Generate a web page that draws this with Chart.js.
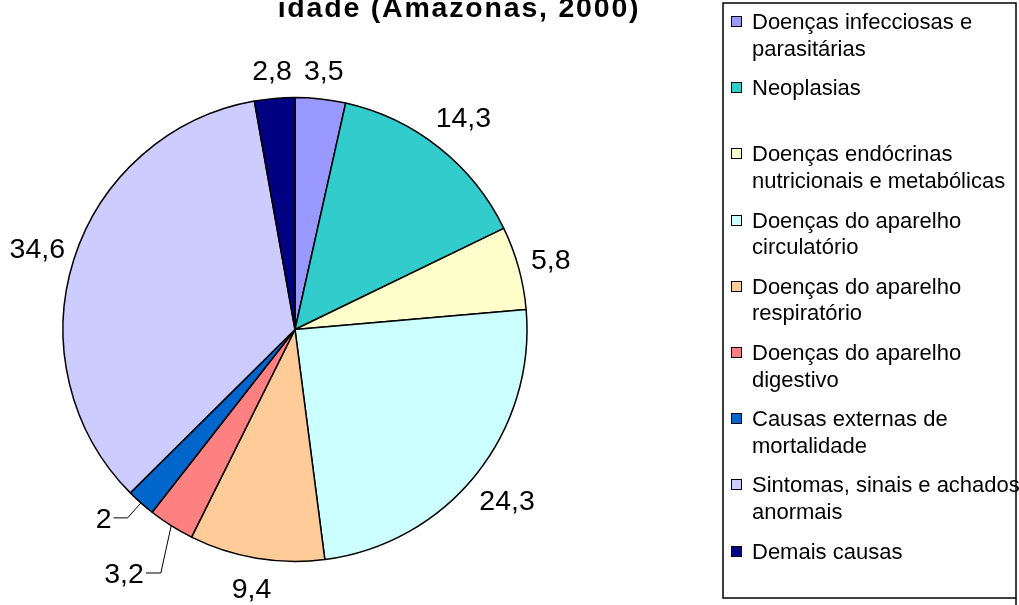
<!DOCTYPE html>
<html>
<head>
<meta charset="utf-8">
<script src="https://cdn.jsdelivr.net/npm/chart.js@4"></script>
<style>
  html, body { margin: 0; padding: 0; background: #ffffff; }
  #wrap { width: 1019px; height: 605px; position: relative; }
</style>
</head>
<body>
<div id="wrap"><canvas id="c" width="1019" height="605"></canvas></div>
<script>
// ---- data ----
const titleText = 'idade (Amazonas, 2000)';
const categories = [
  ['Doenças infecciosas e', 'parasitárias'],
  ['Neoplasias'],
  ['Doenças endócrinas', 'nutricionais e metabólicas'],
  ['Doenças do aparelho', 'circulatório'],
  ['Doenças do aparelho', 'respiratório'],
  ['Doenças do aparelho', 'digestivo'],
  ['Causas externas de', 'mortalidade'],
  ['Sintomas, sinais e achados', 'anormais'],
  ['Demais causas']
];
const values = [3.5, 14.3, 5.8, 24.3, 9.4, 3.2, 2, 34.6, 2.8];
const colors = ['#9999FF', '#33CCCC', '#FFFFCC', '#CCFFFF', '#FFCC99', '#FF8080', '#0066CC', '#CCCCFF', '#000080'];

const FONT = "'Liberation Sans', Arial, sans-serif";
const fmt = v => String(v).replace('.', ',');

const decorPlugin = {
  id: 'decor',
  afterDatasetsDraw(chart, args, opts) {
    const ctx = chart.ctx;
    const meta = chart.getDatasetMeta(0);
    ctx.save();
    ctx.font = opts.labelFontSize + 'px ' + FONT;
    ctx.fillStyle = '#000';
    ctx.strokeStyle = '#000';
    const capH = opts.labelFontSize * 0.716;
    meta.data.forEach((arc, i) => {
      const p = arc.getProps(['x', 'y', 'startAngle', 'endAngle', 'outerRadius'], true);
      const a = (p.startAngle + p.endAngle) / 2;
      const txt = fmt(values[i]);
      const w = ctx.measureText(txt).width;
      const leader = opts.leaders[i];
      if (leader) {
        const x0 = p.x + Math.cos(a) * p.outerRadius;
        const y0 = p.y + Math.sin(a) * p.outerRadius;
        const a2 = a + leader.turn * Math.PI / 180;
        const r2 = p.outerRadius + leader.extra;
        const x1 = p.x + Math.cos(a2) * r2;
        const y1 = p.y + Math.sin(a2) * r2;
        const x2 = x1 - leader.tail;
        ctx.beginPath();
        ctx.moveTo(x0, y0); ctx.lineTo(x1, y1); ctx.lineTo(x2, y1);
        ctx.lineWidth = 1;
        ctx.stroke();
        ctx.textAlign = 'right';
        ctx.textBaseline = 'alphabetic';
        ctx.fillText(txt, x2 - 2, y1 + capH / 2);
      } else {
        const hw = w / 2, hh = capH / 2;
        const d = p.outerRadius + opts.pad + hh * Math.abs(Math.sin(a)) +
          opts.k * hw * Math.abs(Math.cos(a)) + opts.m * Math.abs(Math.sin(2 * a));
        ctx.textAlign = 'center';
        ctx.textBaseline = 'alphabetic';
        ctx.fillText(txt, p.x + Math.cos(a) * d, p.y + Math.sin(a) * d + capH / 2);
      }
    });
    ctx.restore();
  },
  afterDraw(chart, args, opts) {
    const ctx = chart.ctx;
    ctx.save();
    // title (only the visible last line)
    ctx.font = 'bold ' + opts.titleFontSize + 'px ' + FONT;
    if ('letterSpacing' in ctx) ctx.letterSpacing = opts.titleSpacing + 'px';
    ctx.fillStyle = '#000';
    ctx.textAlign = 'center';
    ctx.textBaseline = 'alphabetic';
    ctx.fillText(titleText, opts.titleX, opts.titleY);
    if ('letterSpacing' in ctx) ctx.letterSpacing = '0px';

    // legend box
    const b = opts.box;
    ctx.lineWidth = 1.5;
    ctx.strokeStyle = '#000';
    ctx.strokeRect(b.x, b.y, b.w, b.h);
    ctx.beginPath();
    ctx.moveTo(b.x + b.w, b.y + b.h);
    ctx.lineTo(b.x + b.w, chart.height);
    ctx.stroke();

    ctx.font = opts.legendFontSize + 'px ' + FONT;
    ctx.textAlign = 'left';
    const meta = chart.getDatasetMeta(0);
    categories.forEach((lines, i) => {
      const base = opts.legendTop + i * opts.itemStep;
      const sq = opts.square;
      const sy = Math.round(base - opts.legendFontSize * 0.36 - sq / 2);
      ctx.fillStyle = meta.data[i].options.backgroundColor;
      ctx.fillRect(opts.squareX, sy, sq, sq);
      ctx.lineWidth = 1;
      ctx.strokeRect(opts.squareX + 0.5, sy + 0.5, sq, sq);
      ctx.fillStyle = '#000';
      lines.forEach((ln, j) => {
        ctx.fillText(ln, opts.textX, base + j * opts.lineStep);
      });
    });
    ctx.restore();
  }
};

new Chart(document.getElementById('c'), {
  type: 'pie',
  data: {
    labels: categories.map(l => l.join(' ')),
    datasets: [{
      data: values,
      backgroundColor: colors,
      borderColor: '#000000',
      borderWidth: 1.5,
      radius: 232
    }]
  },
  options: {
    responsive: false,
    animation: false,
    layout: { padding: { left: 0, right: 429, top: 54, bottom: 0 } },
    plugins: {
      legend: { display: false },
      tooltip: { enabled: false },
      title: { display: false },
      decor: {
        labelFontSize: 28.5,
        pad: 17,
        k: 0.6,
        m: 4,
        leaders: { 5: { extra: 46, turn: -3.4, tail: 15 }, 6: { extra: 20, turn: 0, tail: 14 } },
        titleFontSize: 28.5,
        titleSpacing: 1.8,
        titleX: 459,
        titleY: 17,
        box: { x: 723, y: 3, w: 293, h: 595 },
        legendFontSize: 22,
        legendTop: 29,
        itemStep: 66.2,
        lineStep: 26.5,
        square: 10,
        squareX: 731,
        textX: 752
      }
    }
  },
  plugins: [decorPlugin]
});
</script>
</body>
</html>
